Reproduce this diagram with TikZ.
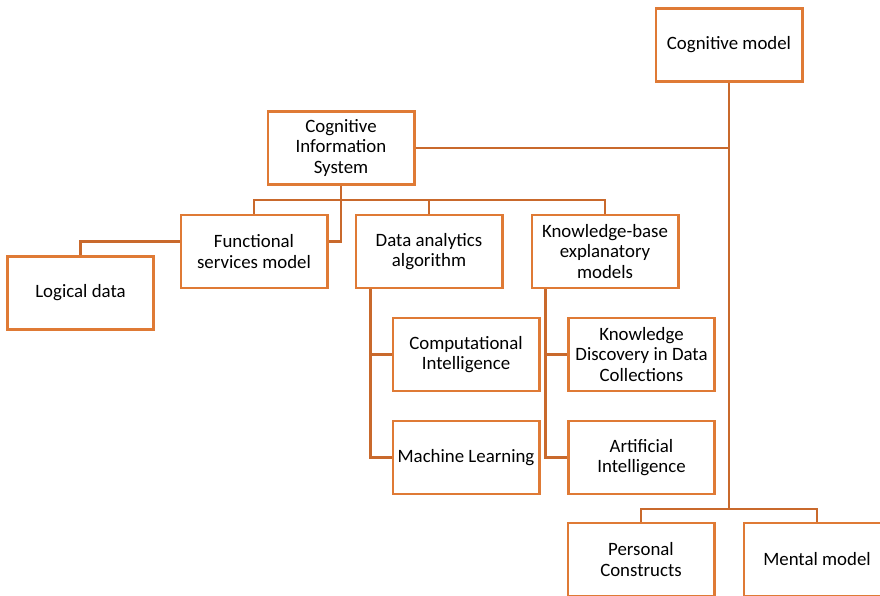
\documentclass[tikz,border=0pt]{standalone}
\usepackage{fontspec}
\setmainfont{Carlito}
\definecolor{boxorange}{HTML}{DF7A35}
\definecolor{linkorange}{HTML}{C9692C}
\begin{document}
\begin{tikzpicture}[x=0.025cm,y=-0.025cm,
    block/.style={draw=boxorange,line width=2.1pt,rectangle,minimum width=3.65cm,minimum height=1.825cm,
      align=center,inner sep=1pt,font=\fontsize{13.4}{14.3}\selectfont},
    link/.style={draw=linkorange,line width=2.1pt}]
            \useasboundingbox (0,0) rectangle (880,596);
            \node[block] (CM) at (729,45) {Cognitive model};
            \node[block] (CIS) at (341,148) {Cognitive\\Information\\System};
            \node[block] (FSM) at (254,251.5) {Functional\\services model};
            \node[block] (DAA) at (429,251.5) {Data analytics\\algorithm};
            \node[block] (KB) at (605,251.5) {Knowledge-base\\explanatory\\models};
            \node[block] (LD) at (80.5,293) {Logical data};
            \node[block] (CI) at (466,354.5) {Computational\\Intelligence};
            \node[block] (ML) at (466,457.5) {Machine Learning};
            \node[block] (KDD) at (641.5,354.5) {Knowledge\\Discovery in Data\\Collections};
            \node[block] (AI) at (641.5,457.5) {Artificial\\Intelligence};
            \node[block] (PC) at (641,559.5) {Personal\\Constructs};
            \node[block] (MM) at (817,559.5) {Mental model};
            \coordinate (bus) at (341,200);
            \coordinate (low) at (729,509);
            \draw[link] (CM.south) -- (low);
            \draw[link] (CIS.east) -- (CIS.east -| CM.south);
            \draw[link] (PC.north) |- (low) -| (MM.north);
            \draw[link] (FSM.north) |- (bus) -| (KB.north);
            \draw[link] (DAA.north) -- (DAA.north |- bus);
            \draw[link] (CIS.south) |- ([yshift=0.25cm]FSM.east);
            \draw[link] ([yshift=0.25cm]FSM.west) -| (LD.north);
            \draw[link] ([xshift=0.4cm]DAA.south west) |- (CI.west);
            \draw[link] ([xshift=0.4cm]DAA.south west) |- (ML.west);
            \draw[link] ([xshift=0.375cm]KB.south west) |- (KDD.west);
            \draw[link] ([xshift=0.375cm]KB.south west) |- (AI.west);
        \end{tikzpicture}
\end{document}
